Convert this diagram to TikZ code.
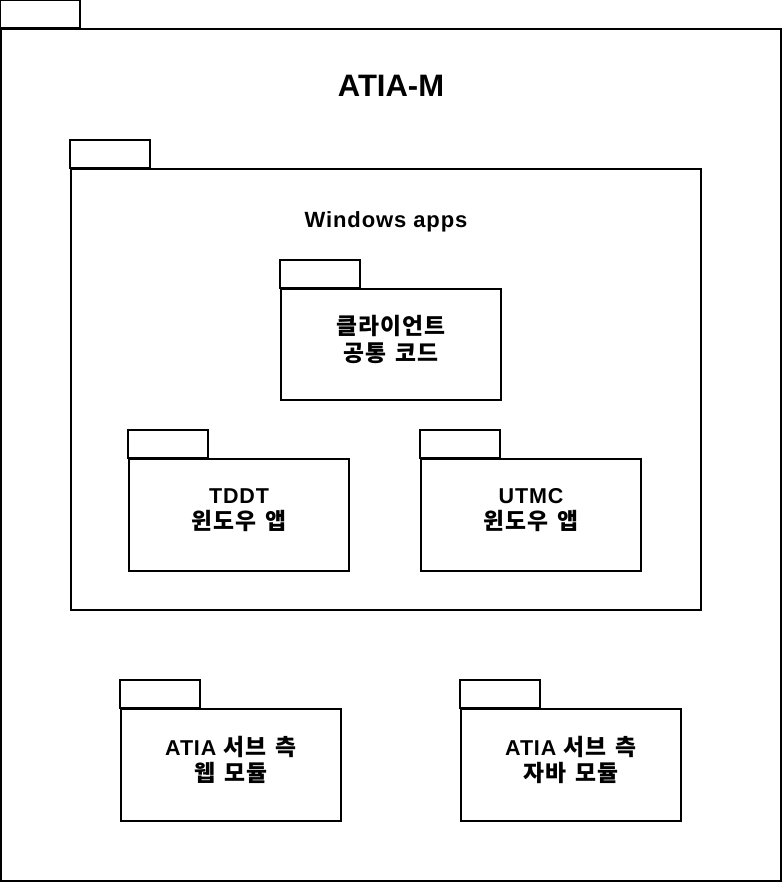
\documentclass[tikz,border=0pt]{standalone}
\usepackage{fontspec}
\setmainfont{Liberation Sans}
\newfontfamily\lblfont[LetterSpace=4]{Liberation Sans}
\newfontfamily\krfont[Scale=1.06, LetterSpace=5, WordSpace=1.5]{Noto Sans CJK KR}
\usetikzlibrary{positioning}
\tikzset{
  pkgbody/.style={draw=black, line width=1.6pt, fill=white, inner sep=0pt},
  pkgtab/.style={draw=black, line width=1.6pt, fill=white},
  pkglbl/.style={inner sep=0pt, align=center,
    font=\lblfont\fontsize{21.5}{26.5}\selectfont\bfseries},
  pkgtitle/.style={inner sep=0pt, font=\bfseries},
}
% tab sitting on the upper left corner of a package body
\newcommand{\pkgtab}[1]{\draw[pkgtab] (#1.north west) rectangle +(80,-28);}

\begin{document}
\begin{tikzpicture}[x=1pt, y=-1pt]
  \useasboundingbox (0,0) rectangle (782,882);

  %% ---- outer package ----
  \node[pkgbody, minimum width=780pt, minimum height=852pt] (atiam) at (391,455) {};
  \pkgtab{atiam}
  \node[pkgtitle, font=\fontsize{31}{36}\selectfont\bfseries] (atiamlbl) at (391,86) {ATIA-M};

  %% ---- Windows apps package ----
  \node[pkgbody, minimum width=630pt, minimum height=441pt] (winapps) at (386,389.5) {};
  \pkgtab{winapps}
  \node[pkgtitle, anchor=base, font=\lblfont\fontsize{22}{26}\selectfont\bfseries] (winlbl) at (386,228) {Windows apps};

  \node[pkgbody, minimum width=220pt, minimum height=111pt] (common) at (391,344.5) {};
  \pkgtab{common}
  \node[pkglbl] (commonlbl) at ([yshift=5pt]common.center) {{\krfont 클라이언트}\\{\krfont 공통 코드}};

  \node[pkgbody, minimum width=220pt, minimum height=112pt] (tddt) at (239,515) {};
  \pkgtab{tddt}
  \node[pkglbl] (tddtlbl) at ([yshift=5pt]tddt.center) {TDDT\\{\krfont 윈도우 앱}};

  \node[pkgbody, minimum width=220pt, minimum height=112pt] (utmc) at (531,515) {};
  \pkgtab{utmc}
  \node[pkglbl] (utmclbl) at ([yshift=5pt]utmc.center) {UTMC\\{\krfont 윈도우 앱}};

  %% ---- server side modules ----
  \node[pkgbody, minimum width=220pt, minimum height=112pt] (webmod) at (231,765) {};
  \pkgtab{webmod}
  \node[pkglbl] (webmodlbl) at ([yshift=5pt]webmod.center) {ATIA {\krfont 서브 측}\\{\krfont 웹 모듈}};

  \node[pkgbody, minimum width=220pt, minimum height=112pt] (javamod) at (571,765) {};
  \pkgtab{javamod}
  \node[pkglbl] (javamodlbl) at ([yshift=5pt]javamod.center) {ATIA {\krfont 서브 측}\\{\krfont 자바 모듈}};

\end{tikzpicture}
\end{document}
